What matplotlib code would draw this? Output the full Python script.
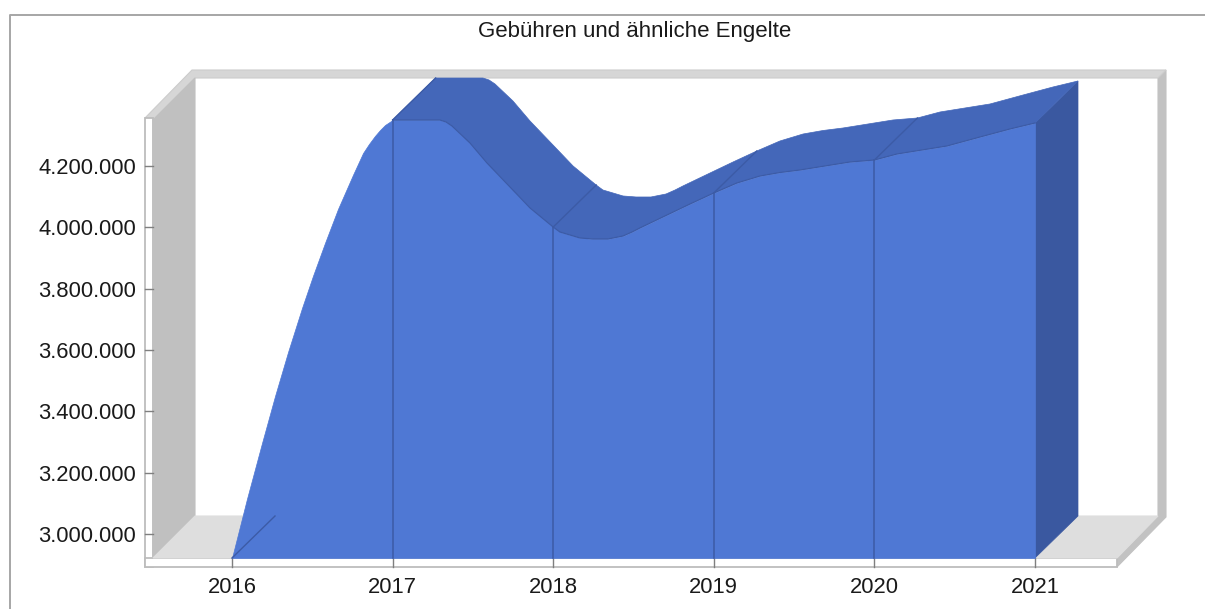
# plot.py - 3D style area chart "Gebühren und ähnliche Engelte"
import matplotlib
matplotlib.use("Agg")  # headless rendering
import matplotlib.pyplot as plt
from matplotlib.patches import Polygon
from matplotlib.ticker import FuncFormatter
import numpy as np

plt.rcParams['font.family'] = ['Liberation Sans', 'DejaVu Sans']

TITLE = "Gebühren und ähnliche Engelte"
years = [2016, 2017, 2018, 2019, 2020, 2021]
y_ticks = [3000000, 3200000, 3400000, 3600000, 3800000, 4000000, 4200000]

# values at the labelled years
year_values = [2921700, 4350000, 4001000, 4112000, 4219600, 4340300]

# outline of the smoothed area
curve_x = [2016.000, 2016.093, 2016.187, 2016.268, 2016.349, 2016.436, 2016.504, 2016.579,
           2016.660, 2016.753, 2016.816, 2016.853, 2016.890, 2016.922, 2016.953, 2017.000,
           2017.295, 2017.333, 2017.370, 2017.482, 2017.588, 2017.731, 2017.856, 2018.000,
           2018.042, 2018.105, 2018.167, 2018.248, 2018.341, 2018.435, 2018.491, 2018.540,
           2018.709, 2018.852, 2019.000, 2019.144, 2019.288, 2019.412, 2019.537, 2019.848,
           2020.000, 2020.141, 2020.452, 2020.658, 2020.844, 2021.000]
curve_y = [2921700, 3114100, 3296800, 3450000, 3593500, 3737000, 3841300, 3949000,
           4059800, 4170700, 4242400, 4271800, 4297900, 4317400, 4333700, 4350000,
           4350000, 4343500, 4330500, 4275000, 4209800, 4131600, 4063100, 4001000,
           3984800, 3975000, 3965300, 3962000, 3962000, 3971800, 3984800, 3997900,
           4040300, 4076100, 4112000, 4144600, 4167400, 4178800, 4187000, 4213100,
           4219600, 4239200, 4265300, 4294600, 4320700, 4340300]
PEAK = curve_x.index(2017.000)

W, H = 1205, 609
PX_YEAR = 160.6      # pixels per year
PX_VALUE = 1 / 3261  # pixels per unit
LEFT, RIGHT, TOP, BOTTOM = 153, 1117, 120, 558

FRONT = "#4f78d4"
ROOF = "#4467b9"
SIDE = "#3a58a0"
LINE = "#3c5ba6"
TEXT = "#1a1a1a"

fig = plt.figure(figsize=(W / 100, H / 100), dpi=100)
ax = fig.add_axes([LEFT / W, 1 - BOTTOM / H, (RIGHT - LEFT) / W, (BOTTOM - TOP) / H])
ax.set_xlim(years[0] - (232 - LEFT) / PX_YEAR, years[0] + (RIGHT - 232) / PX_YEAR)
ax.set_ylim(curve_y[0], curve_y[0] + (BOTTOM - TOP) / PX_VALUE)
ax.patch.set_visible(False)
for s in ax.spines.values():
    s.set_visible(False)

x0, x1 = ax.get_xlim()
y0, y1 = ax.get_ylim()
dx = 43 / PX_YEAR
dy = 42 / PX_VALUE


def frame(points, color, edge=None, lw=0.8, z=1):
    # points are given as (pixels right of the front left corner, pixels above the floor)
    pts = [(x0 + a / PX_YEAR, y0 + b / PX_VALUE) for a, b in points]
    ax.add_patch(Polygon(pts, closed=True, facecolor=color, edgecolor=edge or color,
                         linewidth=lw, clip_on=False, zorder=z))


wide = RIGHT - LEFT
high = BOTTOM - TOP

# ---------- walls and floor ----------
frame([(wide, -9), (wide + 49, 41), (wide + 49, high + 50), (wide + 41, high + 42),
       (wide + 41, 42), (wide, 0)], "#c2c2c2")
frame([(-8, high + 2), (39, high + 50), (wide + 49, high + 50), (wide + 41, high + 42),
       (42, high + 42), (0, high)], "#d6d6d6", "#cccccc")
frame([(-8, -9), (0, -9), (0, high + 2), (-8, high + 2)], "white", "#bdbdbd", lw=1.3)
frame([(-8, -9), (wide, -9), (wide, 0), (-8, 0)], "white", "#bdbdbd", lw=1.3)
frame([(0, 0), (42, 42), (42, high + 42), (0, high)], "#c0c0c0")
frame([(0, 0), (42, 42), (wide + 41, 42), (wide, 0)], "#dedede")

# ---------- area ----------
cx = np.array(curve_x)
cy = np.array(curve_y)

side = [(cx[-1], y0), (cx[-1] + dx, y0 + dy), (cx[-1] + dx, cy[-1] + dy), (cx[-1], cy[-1])]
ax.add_patch(Polygon(side, closed=True, facecolor=SIDE, edgecolor=SIDE, lw=0.5, clip_on=False, zorder=3))

roof = np.vstack([np.column_stack([cx[PEAK:], cy[PEAK:]]),
                  np.column_stack([cx[PEAK:] + dx, cy[PEAK:] + dy])[::-1]])
ax.add_patch(Polygon(roof, closed=True, facecolor=ROOF, edgecolor=ROOF, lw=0.5, clip_on=False, zorder=3))

ax.fill_between(cx, y0, cy, facecolor=FRONT, edgecolor=FRONT, lw=0.5, clip_on=False, zorder=4)
ax.plot(cx[PEAK:], cy[PEAK:], color=LINE, lw=0.9, clip_on=False, zorder=5)

# grid lines on the faces, one per year
for i, yr in enumerate(years[:-1]):
    if i > 0:
        ax.plot([yr, yr], [y0, year_values[i]], color=LINE, lw=1.1, clip_on=False, zorder=5)
        ax.plot([yr, yr + dx], [year_values[i], year_values[i] + dy], color=LINE, lw=1.0,
                clip_on=False, zorder=5)
ax.plot([years[0], years[0] + dx], [y0, y0 + dy], color=LINE, lw=1.0, clip_on=False, zorder=5)

# ---------- axes text ----------
ax.set_xticks(years)
ax.set_yticks(y_ticks)
ax.yaxis.set_major_formatter(FuncFormatter(lambda v, pos: f"{int(v):,}".replace(",", ".")))
ax.tick_params(axis='x', length=0, pad=14, labelsize=15.8, labelcolor=TEXT)
ax.tick_params(axis='y', length=0, pad=12, labelsize=15.8, labelcolor=TEXT)

for yv in y_ticks:
    ax.plot([x0 - 8 / PX_YEAR, x0], [yv, yv], color="#7f7f7f", lw=1, clip_on=False, zorder=2)
for yr in years:
    ax.plot([yr, yr], [y0 - 9 / PX_VALUE, y0], color="#7f7f7f", lw=1, clip_on=False, zorder=2)

fig.text(635 / W, 1 - 32 / H, TITLE, ha='center', va='center', fontsize=16, color=TEXT)

# outer border, top and left only
fig.add_artist(plt.Line2D([10 / W, 10 / W, 1], [0, 1 - 15 / H, 1 - 15 / H], color="#a6a6a6", lw=1.4))

fig.savefig("out.png", dpi=100)
